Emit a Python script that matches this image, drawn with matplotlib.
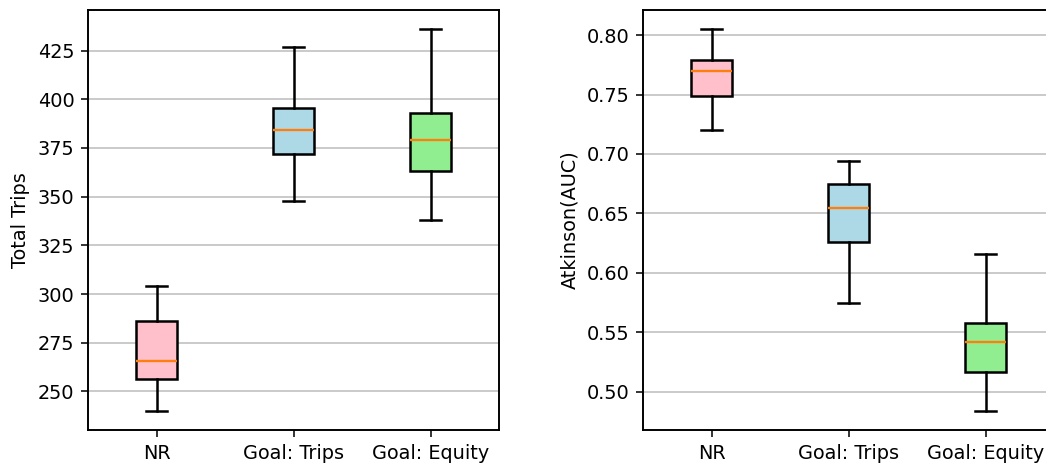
import matplotlib
matplotlib.use('Agg')
import matplotlib.pyplot as plt

# Scenario names and box colours
labels = ['NR', 'Goal: Trips', 'Goal: Equity']
colors = ['pink', 'lightblue', 'lightgreen']

# Total trips: whisker low, Q1, median, Q3, whisker high
trips_low = [240, 348, 338]
trips_q1 = [256.5, 372, 363]
trips_med = [265.4, 384, 379]
trips_q3 = [286, 395.5, 392.7]
trips_high = [304, 427, 436]

# Atkinson index (AUC)
atk_low = [0.720, 0.575, 0.484]
atk_q1 = [0.749, 0.626, 0.517]
atk_med = [0.770, 0.655, 0.542]
atk_q3 = [0.779, 0.675, 0.558]
atk_high = [0.805, 0.694, 0.6155]


def make_stats(low, q1, med, q3, high):
    return [dict(label=l, whislo=a, q1=b, med=c, q3=d, whishi=e, fliers=[])
            for l, a, b, c, d, e in zip(labels, low, q1, med, q3, high)]


def draw(ax, stats, ylabel):
    bp = ax.bxp(stats, patch_artist=True, showfliers=False,
                boxprops=dict(edgecolor='black', linewidth=1.3),
                whiskerprops=dict(color='black', linewidth=1.3),
                capprops=dict(color='black', linewidth=1.3),
                medianprops=dict(color='#ff7f0e', linewidth=1.2))
    for patch, c in zip(bp['boxes'], colors):
        patch.set_facecolor(c)
    ax.set_axisbelow(True)
    ax.yaxis.grid(True, color='#c4c4c4', linewidth=0.9)
    ax.set_ylabel(ylabel)
    for s in ax.spines.values():
        s.set_linewidth(1.0)


# small figure rendered at a high dpi so text and lines come out large
fig = plt.figure(figsize=(1046 / 139, 463 / 139), dpi=139)
ax1 = fig.add_axes([88 / 1046, 33 / 463, 411 / 1046, 420 / 463])
ax2 = fig.add_axes([643 / 1046, 33 / 463, 411 / 1046, 420 / 463])

draw(ax1, make_stats(trips_low, trips_q1, trips_med, trips_q3, trips_high), 'Total Trips')
draw(ax2, make_stats(atk_low, atk_q1, atk_med, atk_q3, atk_high), 'Atkinson(AUC)')

fig.savefig('out.png', dpi=139)
